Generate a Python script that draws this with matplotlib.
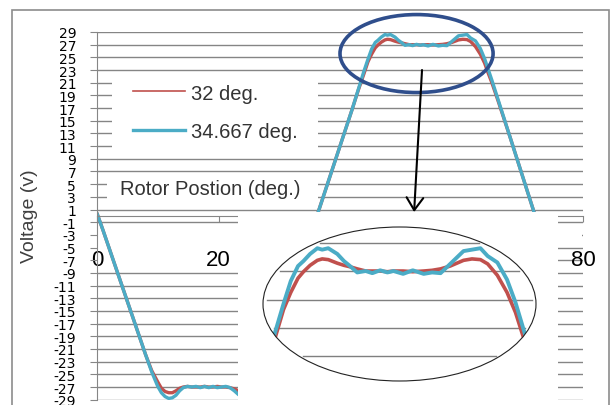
import matplotlib
matplotlib.use("Agg")
import matplotlib.pyplot as plt
import numpy as np
from matplotlib.patches import Ellipse, Rectangle
from matplotlib.lines import Line2D

# ---------------- data ----------------
rotor_deg = [0, 1, 2, 3, 4, 5, 6, 7, 8, 9, 10, 10.6, 11.2, 11.8, 12.4, 13.0, 13.6, 14.2,
             14.9, 15.6, 16.3, 17.0, 17.7, 18.4, 19.1, 19.8, 20.5, 21.2, 21.9, 22.6, 23.3,
             23.9, 24.5, 25.1, 25.8, 26.5, 27.2, 28, 29, 30, 31, 32, 33, 34, 35, 36, 37,
             38, 39, 40, 41, 42, 43, 43.9, 44.6, 45.2, 45.8, 46.25, 46.8, 47.4, 47.8, 48.3,
             49.05, 49.6, 50.1, 50.7, 51.4, 51.95, 52.6, 53.2, 53.7, 54.5, 55.3, 56.2,
             56.9, 57.6, 58.4, 59.5, 60.2, 60.9, 61.5, 62.3, 63.1, 63.8, 64.4, 65, 66, 67,
             68, 69, 70, 71, 72, 73, 74, 75]

v_34667 = [0.4, -2.3, -5.1, -7.9, -10.7, -13.5, -16.3, -19.1, -21.9, -24.6, -26.9, -27.9,
           -28.5, -28.8, -28.7, -28.3, -27.6, -27.1, -26.9, -27.0, -26.9, -27.1, -26.9,
           -27.1, -26.9, -27.1, -27.0, -26.9, -27.1, -27.6, -28.2, -28.6, -28.5, -28.6,
           -28.1, -27.4, -26.0, -23.8, -21.0, -18.1, -15.2, -12.4, -9.5, -6.6, -3.5, -0.6,
           2.3, 5.2, 8.1, 11.0, 13.9, 16.8, 19.9, 22.7, 24.7, 26.3, 27.35, 27.7, 28.2, 28.6,
           28.5, 28.6, 28.2, 27.7, 27.35, 26.9, 27.0, 26.85, 27.05, 26.9, 27.0, 26.8, 27.05,
           26.8, 26.9, 26.85, 27.5, 28.4, 28.5, 28.6, 28.05, 27.6, 26.4, 24.8, 23.1, 21.4,
           18.4, 15.4, 12.4, 9.4, 6.4, 3.4, 0.4, -2.6, -5.6, -8.6]

v_32 = [0.4, -2.3, -5.1, -7.9, -10.7, -13.5, -16.3, -19.1, -21.9, -24.4, -26.2, -27.2,
        -27.7, -27.9, -27.9, -27.6, -27.2, -27.0, -26.9, -27.0, -27.0, -27.0, -26.9, -27.0,
        -27.0, -26.9, -27.0, -27.0, -27.1, -27.3, -27.6, -27.8, -27.8, -27.7, -27.2, -26.4,
        -25.2, -23.3, -20.7, -18.0, -15.2, -12.4, -9.5, -6.6, -3.5, -0.6, 2.3, 5.2, 8.1,
        11.0, 13.9, 16.8, 19.8, 22.3, 24.3, 25.5, 26.5, 26.95, 27.4, 27.75, 27.85, 27.8,
        27.55, 27.4, 27.3, 27.15, 27.0, 27.0, 27.0, 26.95, 27.0, 27.0, 26.95, 27.0, 27.05,
        27.15, 27.35, 27.75, 27.85, 27.8, 27.5, 26.7, 25.5, 24.1, 22.5, 21.0, 18.2, 15.3,
        12.4, 9.4, 6.4, 3.4, 0.4, -2.6, -5.6, -8.6]

series_labels = ["32 deg.", "34.667 deg."]
y_ticks = list(range(-29, 30, 2))
x_ticks = [0, 20, 40, 60, 80]
inset_grid = [21, 23, 25, 27, 29]
inset_xlim = (42.9, 65.5)
inset_ylim = (19.28, 30.09)

RED = "#C0504D"
CYAN = "#4BACC6"
GRID = "#858585"

W, H = 611, 406
def fx(px):
    return px / W
def fy(py):
    return 1 - py / H

fig = plt.figure(figsize=(W / 100, H / 100), dpi=100)
fig.patch.set_facecolor("white")

# chart-area frame
fig.add_artist(Rectangle((fx(11.5), fy(420)), (608.5 - 11.5) / W, (420 - 10.5) / H,
                         transform=fig.transFigure, fill=False, ec="#8c8c8c", lw=1.2))

ax = fig.add_axes([fx(97), fy(400.7), (583 - 97) / W, (400.7 - 33) / H])
ax.set_xlim(0, 80)
ax.set_ylim(-29, 29)
ax.set_facecolor("white")
ax.set_axisbelow(True)

for v in y_ticks:
    ax.axhline(v, color=GRID, lw=1.0, zorder=0.3)

ax.plot(rotor_deg, v_32, color=RED, lw=2.4, zorder=2, solid_capstyle="round")
ax.plot(rotor_deg, v_34667, color=CYAN, lw=2.4, zorder=2.1, solid_capstyle="round")

for s in ["top", "right"]:
    ax.spines[s].set_visible(False)
ax.spines["bottom"].set_position(("data", 0))
ax.spines["bottom"].set_color("#868686")
ax.spines["left"].set_color("#868686")

ax.set_yticks(y_ticks)
ax.set_yticklabels([str(v) for v in y_ticks], fontfamily="DejaVu Sans", fontsize=10)
ax.set_xticks(x_ticks)
ax.set_xticklabels([str(v) for v in x_ticks], fontfamily="Liberation Sans", fontsize=16)
ax.tick_params(axis="y", direction="out", length=5, width=0.8, color="#868686", pad=10)
ax.tick_params(axis="x", direction="out", length=4.5, width=0.8, color="#868686", pad=19.5)

# white boxes (covering gridlines) for legend, axis title, tick label strip
for (x0, y0, x1, y1) in [(112, 77, 318, 153), (107, 177, 318, 204),
                         (98, 228, 238, 267), (558, 229, 582, 242)]:
    ax.add_patch(Rectangle((fx(x0), fy(y1)), (x1 - x0) / W, (y1 - y0) / H,
                           transform=fig.transFigure, fc="white", ec="none",
                           zorder=0.45, clip_on=False))

# inset picture background
ax.add_patch(Rectangle((fx(238), fy(410)), (558 - 238) / W, (410 - 213) / H,
                       transform=fig.transFigure, fc="white", ec="none",
                       zorder=4, clip_on=False))

# legend
handles = [Line2D([], [], color=RED, lw=1.2), Line2D([], [], color=CYAN, lw=2.4)]
leg = ax.legend(handles, series_labels, loc="upper left",
                bbox_to_anchor=(fx(133), fy(84.5)), bbox_transform=fig.transFigure,
                frameon=False, borderpad=0, borderaxespad=0, handlelength=2.6,
                handletextpad=0.28, labelspacing=0.95,
                prop={"family": "Liberation Sans", "size": 14.5})
for t in leg.get_texts():
    t.set_color("#333333")
leg.set_zorder(5)

# axis titles
fig.text(fx(210.5), fy(190), "Rotor Postion (deg.)", ha="center", va="center",
         fontfamily="Liberation Sans", fontsize=14.5, color="#333333")
fig.text(fx(30), fy(216), "Voltage (v)", ha="center", va="center", rotation=90,
         fontfamily="Liberation Sans", fontsize=14, color="#404040")

# highlight ellipse and arrow
ax.add_patch(Ellipse((52.6, 25.6), 25.2, 12.3, fill=False, ec="#2F4E8C", lw=2.6,
                     zorder=6, clip_on=False))
ax.annotate("", xy=(52.2, 0.6), xytext=(53.5, 23.0),
            arrowprops=dict(arrowstyle="->,head_length=0.9,head_width=0.6",
                            color="black", lw=1.5, shrinkA=0, shrinkB=0),
            zorder=6)

# inset (zoomed top)
axi = fig.add_axes([fx(263), fy(382), 273 / W, 154 / H])
axi.set_xlim(*inset_xlim)
axi.set_ylim(*inset_ylim)
axi.axis("off")
ell = Ellipse((0.5, 0.5), 1, 1, transform=axi.transAxes, fill=False, ec="#222222",
              lw=0.8, zorder=5, clip_on=False)
axi.add_patch(ell)
ylo, yhi = inset_ylim
for v in inset_grid:
    t = (v - ylo) / (yhi - ylo)
    hc = 0.5 * np.sqrt(max(0.0, 1 - (2 * t - 1) ** 2)) * 0.97
    axi.plot([0.5 - hc, 0.5 + hc], [v, v], transform=axi.get_yaxis_transform(),
             color="#7f7f7f", lw=1.0, zorder=1)
l1, = axi.plot(rotor_deg, v_32, color=RED, lw=2.6, zorder=2)
l2, = axi.plot(rotor_deg, v_34667, color=CYAN, lw=2.8, zorder=3)
l1.set_clip_path(ell)
l2.set_clip_path(ell)

fig.savefig("out.png", dpi=100)
